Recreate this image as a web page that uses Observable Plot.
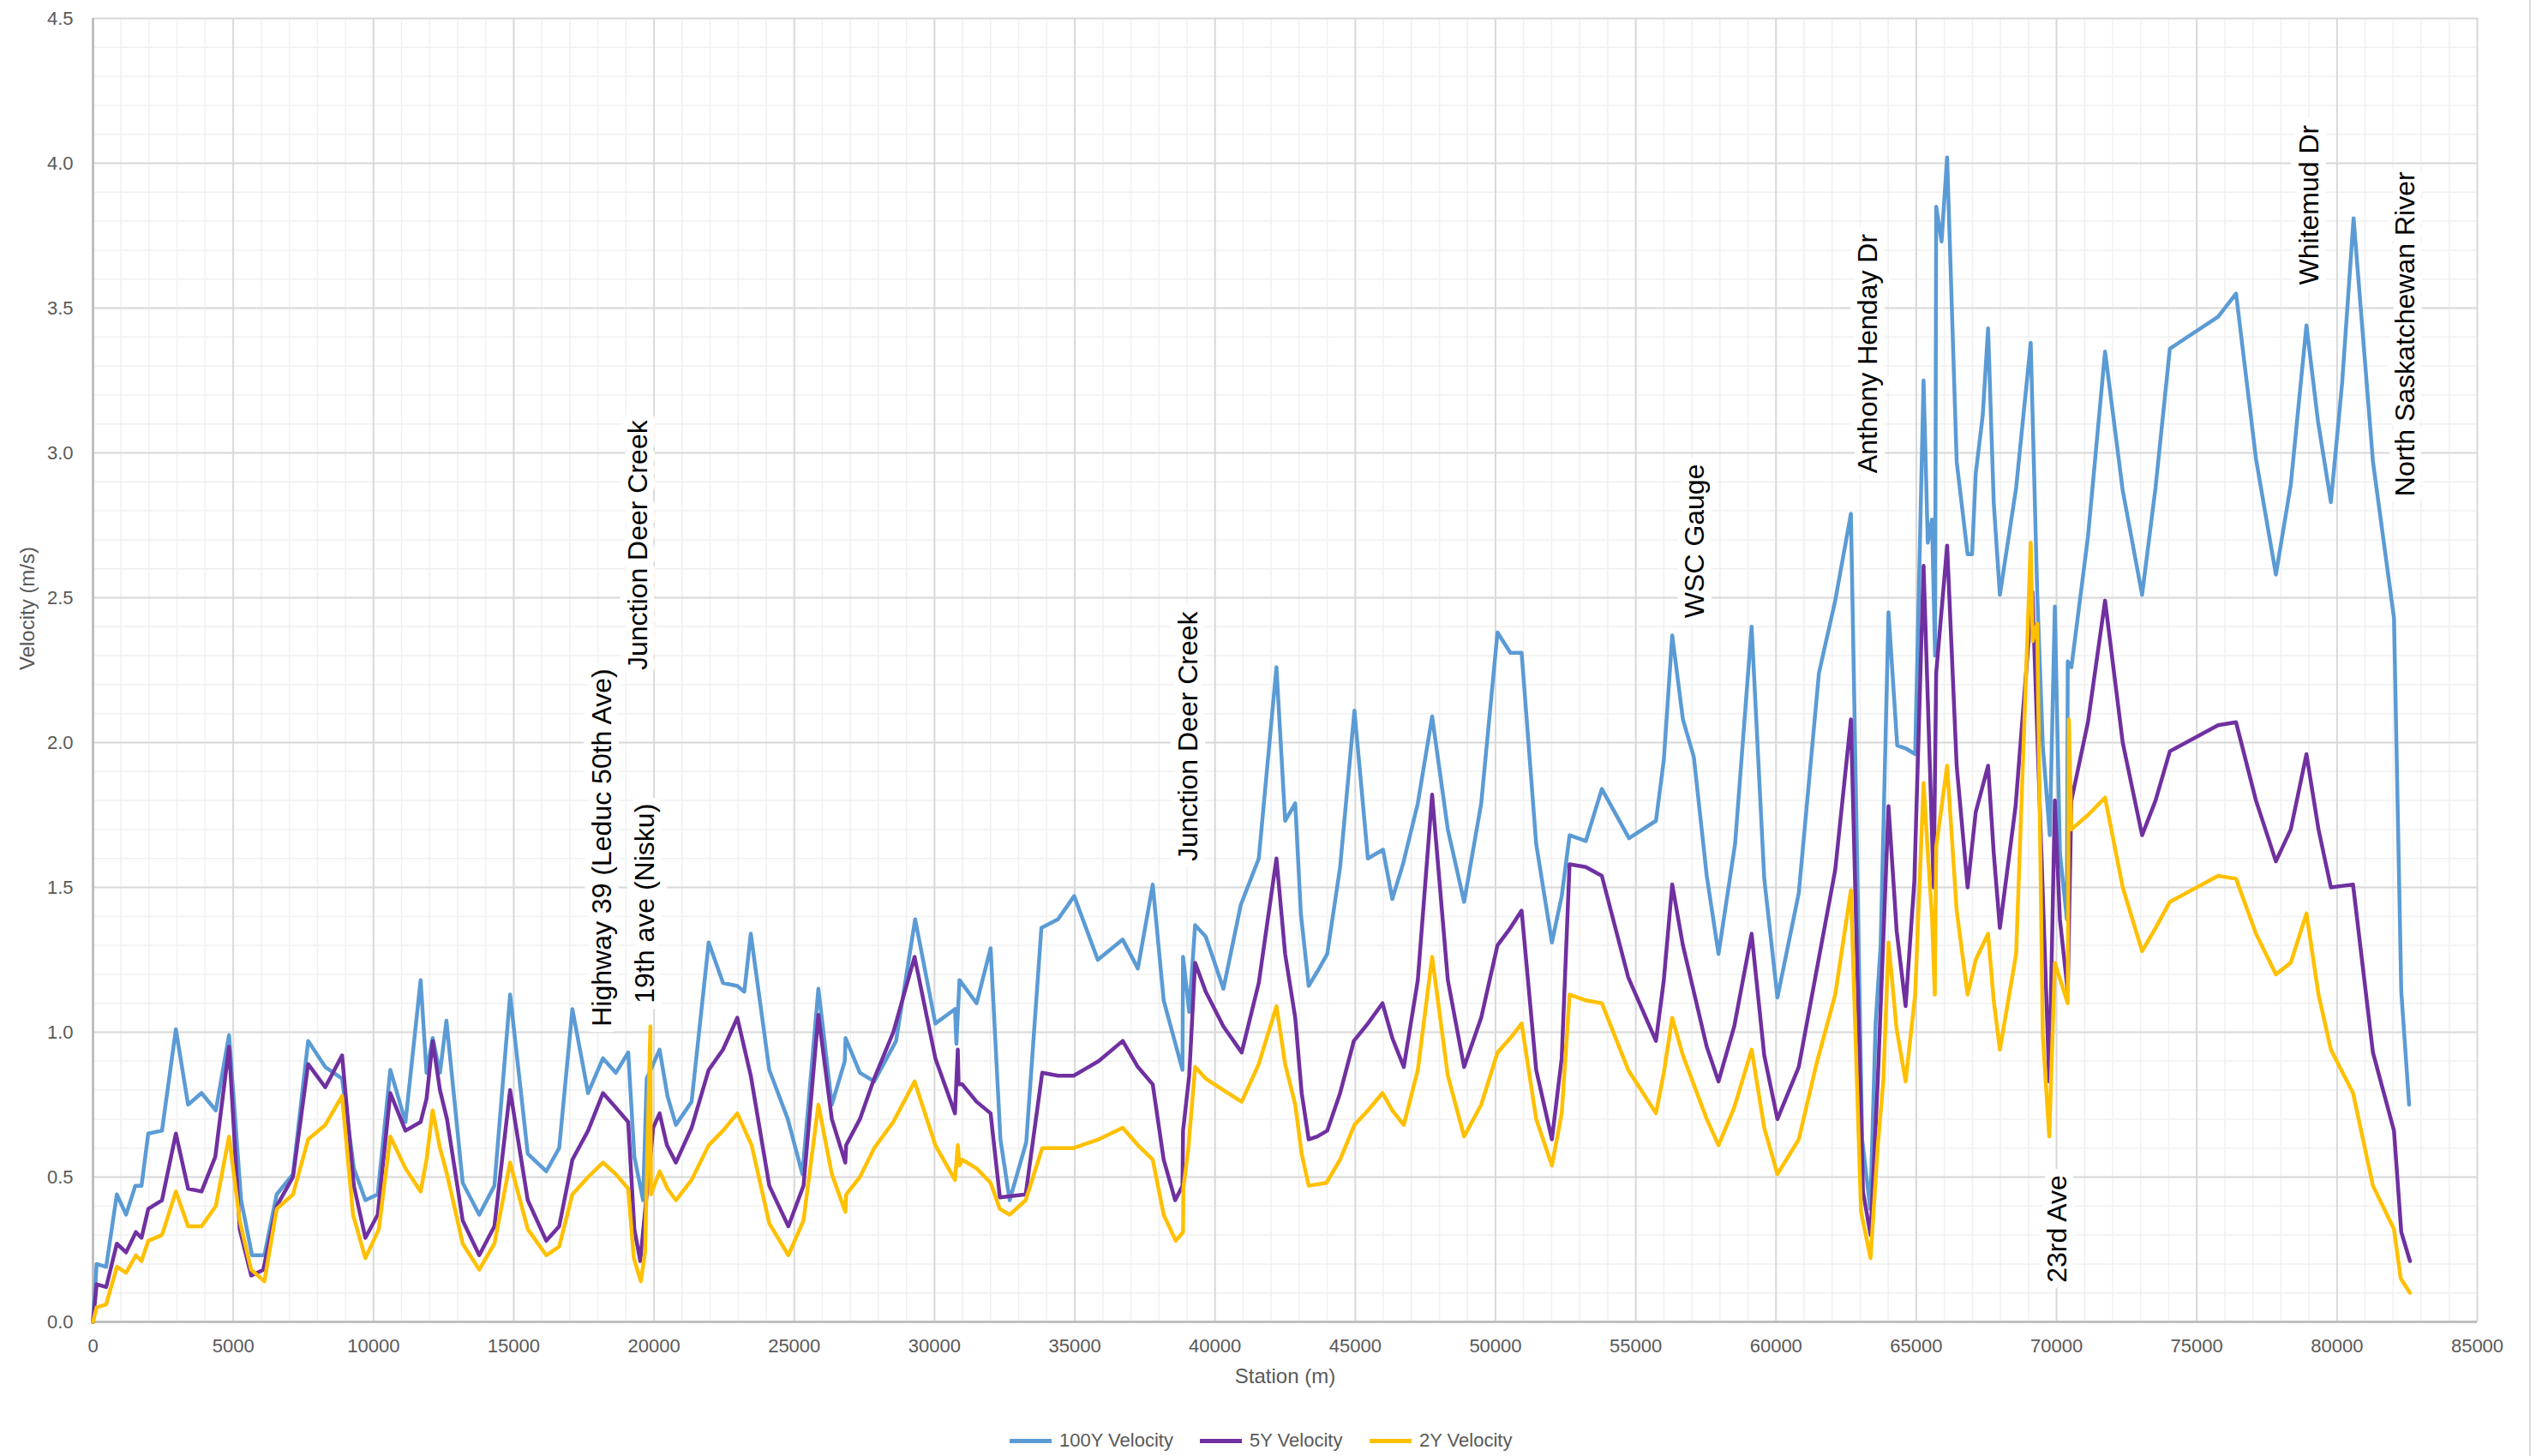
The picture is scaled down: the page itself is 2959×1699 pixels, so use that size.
<!DOCTYPE html>
<html>
<head>
<meta charset="utf-8">
<script src="https://cdn.jsdelivr.net/npm/d3@7"></script>
<script src="https://cdn.jsdelivr.net/npm/@observablehq/plot@0.6"></script>
<style>
  html, body { margin: 0; padding: 0; background: #fff; }
  body { width: 2959px; height: 1699px; overflow: hidden; font-family: "Liberation Sans", Arial, sans-serif; position: relative; }
  #chart svg { display: block; }
  #legend { position: relative; height: 54px; }
  .item { position: absolute; top: 0; height: 54px; display: flex; align-items: center; padding-top: 18px; box-sizing: border-box; }
  .swatch { width: 49px; height: 5px; margin-right: 9px; }
  .lab { font-size: 22px; color: #595959; white-space: nowrap; }
  #frame { position: absolute; left: 2951px; top: 0; width: 0; height: 1699px; border-left: 2px solid #D9D9D9; }
</style>
</head>
<body>
<div id="chart"></div>
<div id="legend"></div>
<div id="frame"></div>
<script>
// ---- data: [station (m), velocity (m/s)] ----
const vel100 = [[0,0],[130,0.20],[470,0.19],[850,0.44],[1180,0.37],[1510,0.47],[1730,0.47],[1970,0.65],[2460,0.66],[2955,1.01],[3390,0.75],[3870,0.79],[4380,0.73],[4850,0.99],[5280,0.42],[5670,0.23],[6110,0.23],[6550,0.44],[7130,0.51],[7670,0.97],[8280,0.88],[8880,0.84],[9300,0.53],[9710,0.42],[10150,0.44],[10600,0.87],
[11140,0.69],[11680,1.18],[11890,0.86],[12110,0.98],[12370,0.86],[12600,1.04],[13180,0.48],[13770,0.37],[14310,0.47],[14870,1.13],[15500,0.58],[16160,0.52],[16620,0.60],[17090,1.08],[17650,0.79],[18180,0.91],[18640,0.86],[19080,0.93],[19300,0.57],[19610,0.42],[19740,0.84],[20200,0.94],[20480,0.78],[20780,0.68],
[21340,0.76],[21950,1.31],[22460,1.17],[22970,1.16],[23220,1.14],[23450,1.34],[24110,0.87],[24770,0.70],[25290,0.51],[25860,1.15],[26340,0.75],[26800,0.90],[26830,0.98],[27340,0.86],[27850,0.83],[28630,0.97],[29310,1.39],[30030,1.03],[30730,1.08],[30780,0.96],[30890,1.18],[31500,1.10],
[32000,1.29],[32350,0.63],[32680,0.42],[33270,0.62],[33810,1.36],[34400,1.39],[34980,1.47],[35820,1.25],[36710,1.32],[37250,1.22],[37780,1.51],[38170,1.11],[38840,0.87],[38860,1.26],[39080,1.07],[39290,1.37],[39670,1.33],[40300,1.15],[40920,1.44],[41560,1.60],[42190,2.26],
[42500,1.73],[42860,1.79],[43060,1.41],[43340,1.16],[43650,1.21],[44000,1.27],[44460,1.57],[44970,2.11],[45450,1.60],[45990,1.63],[46320,1.46],[46700,1.58],[47230,1.79],[47740,2.09],[48300,1.70],[48880,1.45],[49490,1.79],[50070,2.38],[50530,2.31],[50930,2.31],[51450,1.65],[52010,1.31],[52360,1.47],[52640,1.68],
[53220,1.66],[53790,1.84],[54760,1.67],[55720,1.73],[56000,1.94],[56300,2.37],[56680,2.08],[57070,1.95],[57530,1.54],[57950,1.27],[58540,1.65],[59130,2.40],[59580,1.53],[60050,1.12],[60810,1.48],[61530,2.24],[62110,2.49],[62670,2.79],[63070,0.63],[63360,0.39],[63550,1.03],[63730,1.30],
[64010,2.45],[64320,1.99],[64620,1.98],[64960,1.96],[65260,3.25],[65410,2.69],[65560,2.77],[65670,2.30],[65710,3.85],[65900,3.73],[66100,4.02],[66440,2.97],[66830,2.65],[66990,2.65],[67120,2.93],[67370,3.13],[67560,3.43],[67760,2.83],[67980,2.51],[68560,2.88],[69080,3.38],[69310,2.52],[69510,1.99],[69760,1.68],[69940,2.47],[70120,1.62],[70370,1.39],[70400,2.28],[70530,2.26],[71120,2.71],[71730,3.35],[72360,2.87],[73050,2.51],[73530,2.88],[74040,3.36],
[75760,3.47],[76400,3.55],[77110,2.98],[77820,2.58],[78350,2.89],[78910,3.44],[79320,3.11],[79780,2.83],[80180,3.24],[80590,3.81],[81280,2.97],[82030,2.43],[82290,1.14],[82570,0.75]];

const vel5 = [[0,0],[130,0.13],[470,0.12],[850,0.27],[1180,0.24],[1530,0.31],[1730,0.29],[1970,0.39],[2460,0.42],[2955,0.65],[3390,0.46],[3870,0.45],[4360,0.57],[4850,0.95],[5230,0.32],[5640,0.16],[6070,0.18],[6550,0.40],[7130,0.50],[7670,0.89],[8280,0.81],[8880,0.92],[9300,0.47],[9710,0.29],[10150,0.37],[10600,0.79],
[11140,0.66],[11680,0.69],[11890,0.77],[12110,0.97],[12370,0.80],[12620,0.70],[13180,0.35],[13770,0.23],[14310,0.33],[14870,0.80],[15500,0.42],[16160,0.28],[16620,0.33],[17090,0.56],[17650,0.66],[18180,0.79],[18640,0.74],[19080,0.69],[19300,0.32],[19510,0.21],[19970,0.67],[20200,0.72],[20460,0.61],[20780,0.55],
[21340,0.67],[21950,0.87],[22460,0.94],[22970,1.05],[23450,0.85],[24110,0.47],[24790,0.33],[25330,0.47],[25860,1.06],[26340,0.70],[26820,0.55],[26850,0.61],[27340,0.70],[27850,0.84],[28530,1.00],[29290,1.26],[30030,0.91],[30730,0.72],[30830,0.94],[30860,0.82],[30990,0.82],[31500,0.76],
[32000,0.72],[32330,0.43],[33250,0.44],[33840,0.86],[34400,0.85],[34960,0.85],[35850,0.90],[36710,0.97],[37250,0.88],[37780,0.82],[38170,0.56],[38580,0.42],[38840,0.47],[38860,0.66],[39080,0.85],[39290,1.24],[39670,1.14],[40300,1.02],[40950,0.93],[41560,1.17],[42190,1.60],
[42500,1.27],[42860,1.05],[43090,0.79],[43340,0.63],[43650,0.64],[44000,0.66],[44460,0.79],[44950,0.97],[45450,1.03],[45970,1.10],[46320,0.98],[46730,0.88],[47230,1.18],[47740,1.82],[48300,1.18],[48880,0.88],[49490,1.05],[50070,1.30],[50530,1.36],[50930,1.42],[51450,0.87],[52010,0.63],[52360,0.91],[52640,1.58],
[53220,1.57],[53790,1.54],[54730,1.19],[55720,0.97],[56000,1.18],[56300,1.51],[56680,1.30],[57530,0.95],[57950,0.83],[58510,1.02],[59130,1.34],[59580,0.92],[60050,0.70],[60810,0.88],[61440,1.21],[62110,1.56],[62670,2.08],[63100,0.45],[63370,0.30],[63630,0.84],
[64010,1.78],[64300,1.35],[64620,1.09],[64930,1.52],[65260,2.61],[65410,2.15],[65620,1.50],[65710,2.24],[66100,2.68],[66440,1.92],[66830,1.50],[67120,1.76],[67560,1.92],[67760,1.62],[67980,1.36],[68540,1.78],[69140,2.52],[69740,0.83],[69940,1.80],[70120,1.39],[70400,1.14],[70530,1.80],[71120,2.07],[71730,2.49],[72360,2.00],[73050,1.68],[73530,1.80],[74040,1.97],
[75760,2.06],[76400,2.07],[77110,1.80],[77820,1.59],[78350,1.70],[78910,1.96],[79340,1.70],[79780,1.50],[80570,1.51],[81280,0.93],[82030,0.66],[82290,0.31],[82600,0.21]];

const vel2 = [[0,0],[130,0.05],[470,0.06],[850,0.19],[1180,0.17],[1530,0.23],[1730,0.21],[1970,0.28],[2460,0.30],[2955,0.45],[3390,0.33],[3870,0.33],[4380,0.40],[4850,0.64],[5230,0.35],[5640,0.18],[6110,0.14],[6550,0.39],[7130,0.44],[7670,0.63],[8280,0.68],[8880,0.78],[9270,0.37],[9710,0.22],[10190,0.32],[10600,0.64],
[11140,0.53],[11680,0.45],[11890,0.56],[12110,0.73],[12370,0.60],[12620,0.51],[13180,0.27],[13770,0.18],[14310,0.27],[14870,0.55],[15500,0.32],[16160,0.23],[16620,0.26],[17090,0.44],[17650,0.50],[18180,0.55],[18640,0.51],[19080,0.46],[19280,0.22],[19530,0.14],[19680,0.24],[19870,1.02],[19890,0.44],[20200,0.52],[20480,0.46],[20780,0.42],
[21340,0.49],[21950,0.61],[22460,0.66],[22970,0.72],[23480,0.61],[24110,0.34],[24790,0.23],[25330,0.35],[25860,0.75],[26340,0.51],[26820,0.38],[26850,0.44],[27340,0.50],[27850,0.60],[28530,0.69],[29290,0.83],[30030,0.61],[30730,0.49],[30830,0.61],[30890,0.54],[30990,0.56],[31500,0.53],
[32000,0.48],[32330,0.39],[32680,0.37],[33250,0.42],[33840,0.60],[34400,0.60],[34960,0.60],[35850,0.63],[36710,0.67],[37250,0.61],[37780,0.56],[38170,0.37],[38600,0.28],[38860,0.31],[38870,0.46],[39050,0.60],[39290,0.88],[39670,0.84],[40300,0.80],[40950,0.76],[41560,0.89],[42190,1.09],
[42500,0.89],[42860,0.75],[43090,0.58],[43340,0.47],[43970,0.48],[44460,0.56],[44970,0.68],[45450,0.73],[45970,0.79],[46320,0.73],[46730,0.68],[47230,0.87],[47740,1.26],[48300,0.85],[48880,0.64],[49490,0.75],[50070,0.93],[50530,0.98],[50930,1.03],[51450,0.70],[52010,0.54],[52360,0.72],[52640,1.13],
[53220,1.11],[53790,1.10],[54730,0.87],[55720,0.72],[56000,0.86],[56300,1.05],[56680,0.92],[57530,0.70],[57950,0.61],[58510,0.74],[59130,0.94],[59580,0.67],[60050,0.51],[60810,0.63],[61440,0.89],[62110,1.13],[62670,1.49],[63030,0.38],[63370,0.22],[63630,0.61],[63830,0.84],
[64010,1.31],[64300,1.01],[64620,0.83],[64960,1.13],[65260,1.86],[65410,1.62],[65560,1.40],[65660,1.13],[65710,1.64],[66100,1.92],[66440,1.42],[66830,1.13],[67120,1.25],[67560,1.34],[67760,1.11],[67980,0.94],[68560,1.27],[69080,2.69],[69150,2.35],[69310,2.41],[69510,0.99],[69740,0.64],[69940,1.24],[70400,1.10],[70440,2.08],[70530,1.70],[71120,1.75],[71730,1.81],[72360,1.50],[73050,1.28],[73530,1.36],[74040,1.45],
[75760,1.54],[76400,1.53],[77110,1.34],[77820,1.20],[78350,1.24],[78910,1.41],[79340,1.13],[79780,0.94],[80570,0.79],[81280,0.47],[82030,0.32],[82270,0.15],[82600,0.10]];

const seriesNames = ["100Y Velocity", "5Y Velocity", "2Y Velocity"];
const seriesColors = ["#5B9BD5", "#7030A0", "#FFC000"];

// landmark annotations: name, station, velocity at the start of the label
const landmarkNames = ["Highway 39 (Leduc 50th Ave)", "19th ave (Nisku)", "Junction Deer Creek", "Junction Deer Creek", "WSC Gauge", "Anthony Henday Dr", "23rd Ave", "Whitemud Dr", "North Saskatchewan River"];
const landmarkStations = [18160, 19670, 19450, 39070, 57100, 63280, 70040, 79030, 82440];
const landmarkLevels = [1.02, 1.10, 2.25, 1.59, 2.43, 2.93, 0.135, 3.58, 2.85];

const xTicks = [0,5000,10000,15000,20000,25000,30000,35000,40000,45000,50000,55000,60000,65000,70000,75000,80000,85000];
const yTicks = [0,0.5,1.0,1.5,2.0,2.5,3.0,3.5,4.0,4.5];
const xMinor = d3.range(0, 85001, 1000);
const yMinor = d3.range(0, 46).map(i => i / 10);

const landmarks = landmarkNames.map((n, i) => ({name: n, station: landmarkStations[i], v: landmarkLevels[i]}));
const series = [vel100, vel5, vel2];

const chart = Plot.plot({
  width: 2959,
  height: 1645,
  marginLeft: 108,
  marginRight: 69,
  marginTop: 21,
  marginBottom: 103,
  style: {fontFamily: "'Liberation Sans', Arial, sans-serif", fontSize: "22px", color: "#595959", background: "white", overflow: "visible"},
  x: {domain: [0, 85000], ticks: xTicks, tickFormat: d => String(d), tickSize: 0, tickPadding: 20, label: null},
  y: {domain: [0, 4.5], ticks: yTicks, tickFormat: d3.format(".1f"), tickSize: 0, tickPadding: 23, label: null},
  marks: [
    Plot.ruleX(xMinor, {stroke: "#F0F0F0", strokeWidth: 1.5}),
    Plot.ruleY(yMinor, {stroke: "#F0F0F0", strokeWidth: 1.5}),
    Plot.ruleX(xTicks, {stroke: "#D9D9D9", strokeWidth: 2}),
    Plot.ruleY(yTicks, {stroke: "#D9D9D9", strokeWidth: 2}),
    Plot.ruleX([0], {stroke: "#BFBFBF", strokeWidth: 3}),
    Plot.ruleY([0], {stroke: "#BFBFBF", strokeWidth: 3}),
    Plot.text(landmarks, {x: "station", y: "v", text: "name", rotate: -90, textAnchor: "start", fill: "black", stroke: "white", strokeWidth: 18, fontSize: 32, fontFamily: "'Liberation Sans', Arial, sans-serif"}),
    ...series.map((s, i) => Plot.line(s, {x: d => d[0], y: d => d[1], stroke: seriesColors[i], strokeWidth: 4.5, strokeLinejoin: "round", strokeLinecap: "round"})),
    Plot.text(["Station (m)"], {frameAnchor: "bottom", dy: 71, fontSize: 24, fill: "#595959"}),
    Plot.text(["Velocity (m/s)"], {frameAnchor: "left", dx: -76, rotate: -90, fontSize: 24, fill: "#595959"})
  ]
});
document.getElementById("chart").appendChild(chart);

const legendLefts = [1178, 1400, 1598];
const legend = document.getElementById("legend");
seriesNames.forEach((n, i) => {
  const it = document.createElement("div");
  it.className = "item";
  it.style.left = legendLefts[i] + "px";
  it.innerHTML = `<div class="swatch" style="background:${seriesColors[i]}"></div><span class="lab">${n}</span>`;
  legend.appendChild(it);
});
</script>
</body>
</html>
